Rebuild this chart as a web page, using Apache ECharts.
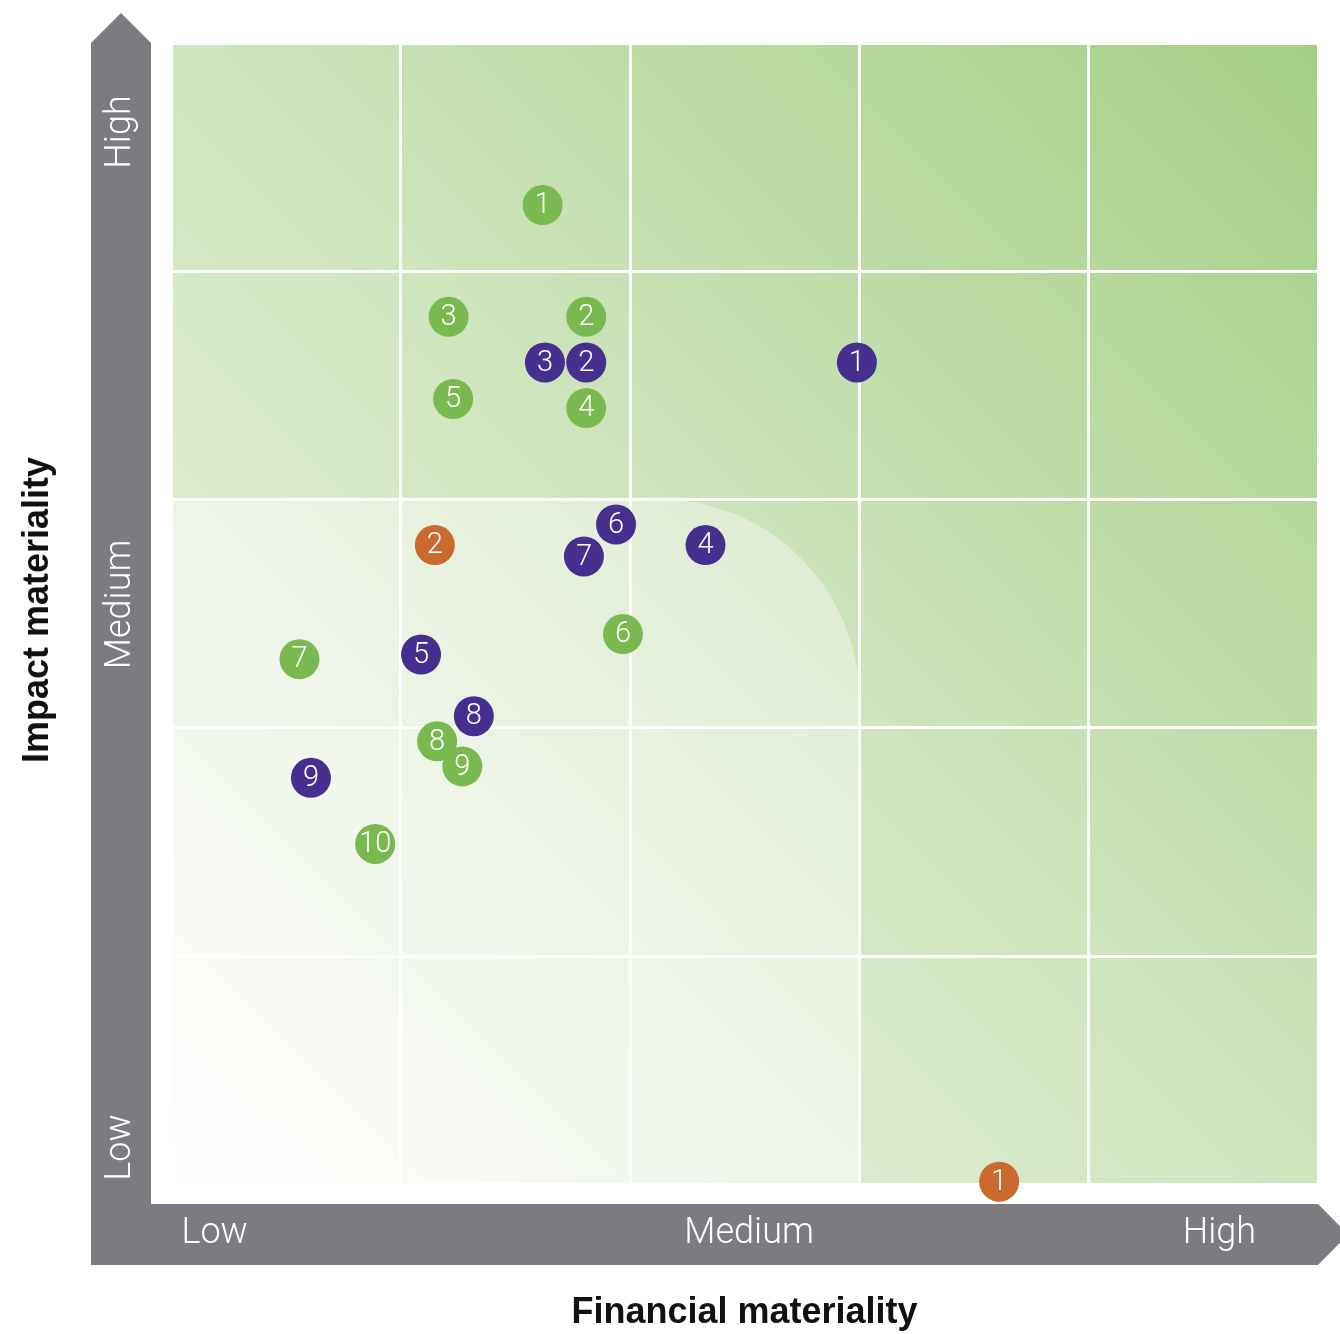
<!DOCTYPE html>
<html><head><meta charset="utf-8">
<script src="https://cdn.jsdelivr.net/npm/echarts@6/dist/echarts.min.js"></script>
<style>html,body{margin:0;padding:0;background:#fff}#c{width:1340px;height:1334px}</style>
</head><body><div id="c"></div>
<script>
// ---- data ----
const levelLabels = ['Low', 'Medium', 'High'];
const levelPosX = [0.19, 2.52, 4.57];
const levelPosY = [0.16, 2.54, 4.61];
const xTitle = 'Financial materiality';
const yTitle = 'Impact materiality';
const greenLabels = ['1','2','3','4','5','6','7','8','9','10'];
const greenX = [1.62, 1.81, 1.21, 1.81, 1.23, 1.97, 0.56, 1.16, 1.27, 0.89];
const greenY = [4.29, 3.80, 3.80, 3.40, 3.44, 2.41, 2.30, 1.94, 1.83, 1.49];
const purpleLabels = ['1','3','2','4','5','6','7','8','9'];
const purpleX = [2.99, 1.63, 1.81, 2.33, 1.09, 1.94, 1.80, 1.32, 0.61];
const purpleY = [3.60, 3.60, 3.60, 2.80, 2.32, 2.89, 2.75, 2.05, 1.78];
const orangeLabels = ['1','2'];
const orangeX = [3.61, 1.15];
const orangeY = [0.01, 2.80];

const GREEN = '#7ab94f', PURPLE = '#472f8f', ORANGE = '#cb6a2f', GRAY = '#7b7b80';
const NUMFONT = '"Liberation Sans Narrow", "Roboto", sans-serif';

function pts(xs, ys, ls) { return xs.map((x, i) => [x, ys[i], ls[i]]); }
function mkSeries(name, color, data) {
  return {
    name, type: 'scatter', data, symbolSize: 40, clip: false, z: 5,
    itemStyle: { color, opacity: 1 },
    label: { show: true, position: 'inside', offset: [0, 1], formatter: p => p.data[2], color: '#fff',
             fontSize: 29, fontWeight: 300, fontFamily: NUMFONT },
    emphasis: { disabled: true }
  };
}

const chart = echarts.init(document.getElementById('c'), null, { renderer: 'canvas' });
const axisCommon = {
  type: 'value', min: 0, max: 5, interval: 1, z: 3,
  axisLine: { show: false }, axisTick: { show: false }, axisLabel: { show: false },
  splitLine: { show: true, lineStyle: { color: '#ffffff', width: 3 } }
};
chart.setOption({
  animation: false,
  grid: {
    left: 171, top: 43, right: 22, bottom: 150, show: true, borderWidth: 0,
    backgroundColor: new echarts.graphic.LinearGradient(0, 1, 1, 0, [
      { offset: 0, color: '#eef6e7' }, { offset: 0.5, color: '#cfe5be' }, { offset: 1, color: '#a4ce85' }
    ])
  },
  xAxis: axisCommon,
  yAxis: axisCommon,
  series: [
    mkSeries('green', GREEN, pts(greenX, greenY, greenLabels)),
    mkSeries('purple', PURPLE, pts(purpleX, purpleY, purpleLabels)),
    mkSeries('orange', ORANGE, pts(orangeX, orangeY, orangeLabels))
  ]
});

const p00 = chart.convertToPixel({ gridIndex: 0 }, [0, 0]);
const p55 = chart.convertToPixel({ gridIndex: 0 }, [5, 5]);
const p33 = chart.convertToPixel({ gridIndex: 0 }, [3, 3]);
const L = p00[0], B = p00[1], R = p55[0], T = p55[1];

const graphics = [];
// light lower-left zone
graphics.push({
  type: 'rect', z: 1, silent: true,
  shape: { x: L, y: p33[1], width: p33[0] - L, height: B - p33[1], r: [0, 200, 0, 0] },
  style: { fill: new echarts.graphic.LinearGradient(0, 1, 1, 0, [
    { offset: 0, color: '#ffffff' }, { offset: 1, color: '#dcebcf' }
  ]) }
});
// axis arrows
graphics.push({
  type: 'polygon', z: 1, silent: true,
  shape: { points: [
    [L - 80, B + 81], [L - 80, T], [L - 50, T - 30], [L - 20, T], [L - 20, B + 20],
    [R, B + 20], [R + 30, B + 50.5], [R, B + 81]
  ] },
  style: { fill: GRAY }
});
const lblFont = { fontSize: 36, fontFamily: 'Roboto, sans-serif', fontWeight: 300, fill: '#ffffff' };
levelLabels.forEach((t, i) => {
  const px = chart.convertToPixel({ gridIndex: 0 }, [levelPosX[i], 0])[0];
  graphics.push({ type: 'text', z: 2, silent: true, x: px, y: B + 50,
    style: Object.assign({ text: t, align: 'center', verticalAlign: 'middle' }, lblFont) });
  const py = chart.convertToPixel({ gridIndex: 0 }, [0, levelPosY[i]])[1];
  graphics.push({ type: 'text', z: 2, silent: true, x: L - 50, y: py, rotation: Math.PI / 2,
    style: Object.assign({ text: t, align: 'center', verticalAlign: 'middle' }, lblFont) });
});
const titleFont = { fontSize: 36, fontFamily: '"Liberation Sans Narrow", "Liberation Sans", sans-serif', fontWeight: 'bold', fill: '#111' };
graphics.push({ type: 'text', z: 2, silent: true, x: (L + R) / 2, y: B + 129,
  style: Object.assign({ text: xTitle, align: 'center', verticalAlign: 'middle' }, titleFont) });
graphics.push({ type: 'text', z: 2, silent: true, x: 38, y: 610, rotation: Math.PI / 2,
  style: Object.assign({ text: yTitle, align: 'center', verticalAlign: 'middle' }, titleFont) });

chart.setOption({ graphic: graphics });
</script></body></html>
